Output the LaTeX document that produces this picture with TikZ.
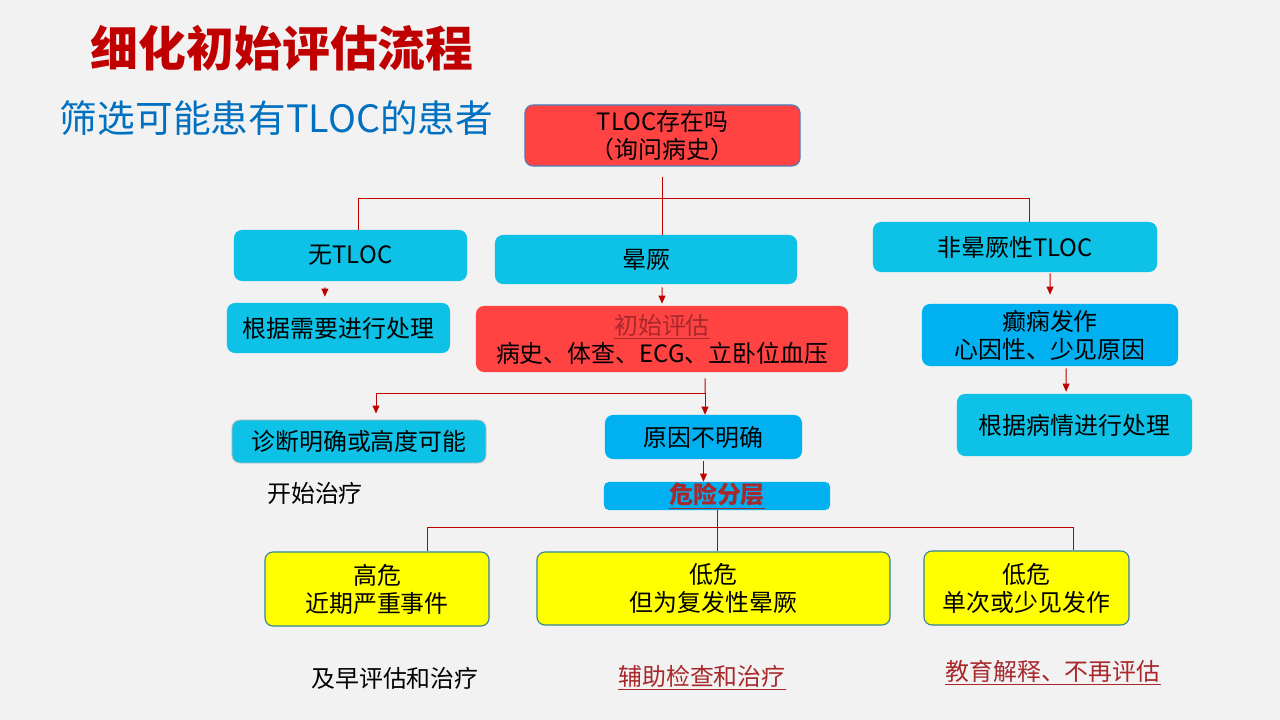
\documentclass[tikz,border=0pt]{standalone}
\usepackage{fontspec}
\setmainfont{Noto Sans CJK SC}
\usetikzlibrary{arrows.meta}

\definecolor{bgray}{HTML}{F2F2F2}
\definecolor{boxred}{HTML}{FF4343}
\definecolor{boxcyan}{HTML}{0DC2E6}
\definecolor{boxblue}{HTML}{00B0F0}
\definecolor{boxyellow}{HTML}{FFFF00}
\definecolor{edgeteal}{HTML}{31859C}
\definecolor{edgeblue}{HTML}{4A7EBB}
\definecolor{linkred}{HTML}{C00000}
\definecolor{txtred}{HTML}{A8282C}
\definecolor{titlered}{HTML}{C00000}
\definecolor{subblue}{HTML}{0070C0}

\tikzset{
  box/.style={rounded corners=2mm, inner sep=0pt, align=center, font=\fontsize{17}{20}\selectfont},
  redbox/.style={box, fill=boxred},
  cyanbox/.style={box, fill=boxcyan},
  bluebox/.style={box, fill=boxblue},
  yelbox/.style={box, fill=boxyellow, draw=edgeteal, line width=0.8pt},
  plain/.style={font=\fontsize{17}{20}\selectfont},
  link/.style={draw=linkred, line width=0.7pt},
  arr/.style={link, -{Triangle[length=2mm, width=1.7mm]}}
}

\begin{document}
\begin{tikzpicture}[x=0.025cm, y=-0.025cm]
  \fill[bgray] (0,0) rectangle (1280,720);
  \useasboundingbox (0,0) rectangle (1280,720);

  \node[anchor=west, text=titlered, font=\fontsize{34}{40}\selectfont\bfseries] (title) at (86,48) {细化初始评估流程};
  \node[anchor=west, text=subblue, font=\fontsize{26.8}{32}\selectfont] (sub) at (55,118) {筛选可能患有TLOC的患者};

  % first level
  \node[redbox, draw=edgeblue, line width=0.8pt, minimum width=68.75mm, minimum height=15.25mm] (q) at (662.5,135.5) {TLOC存在吗\\（询问病史）};
  \node[cyanbox, minimum width=58.25mm, minimum height=12.75mm] (notloc) at (350.5,255.5) {无TLOC};
  \node[cyanbox, minimum width=75.5mm, minimum height=12.25mm] (syncope) at (646,259.5) {晕厥};
  \node[cyanbox, minimum width=71mm, minimum height=12.5mm] (nonsync) at (1015,247) {非晕厥性TLOC};

  \node[cyanbox, minimum width=55.75mm, minimum height=12.5mm] (treatneed) at (338.5,328) {根据需要进行处理};
  \node[redbox, minimum width=93mm, minimum height=16.5mm] (init) at (662,339) {\textcolor{txtred}{\underline{初始评估}}\\病史、体查、ECG、立卧位血压};
  \node[bluebox, minimum width=64mm, minimum height=15.5mm] (epi) at (1050,335) {癫痫发作\\心因性、少见原因};
  \node[cyanbox, minimum width=58.75mm, minimum height=15.5mm] (treatcond) at (1074.5,425) {根据病情进行处理};

  \node[cyanbox, draw=black!25, line width=0.6pt, minimum width=63.5mm, minimum height=10.75mm] (diag) at (359,441.5) {诊断明确或高度可能};
  \node[bluebox, minimum width=49.25mm, minimum height=11mm] (unclear) at (703.5,437) {原因不明确};
  \node[plain] (start) at (315,493) {开始治疗};
  \node[bluebox, rounded corners=1.2mm, minimum width=56.5mm, minimum height=7mm] (strat) at (717,496) {\textcolor{txtred}{\underline{\bfseries 危险分层}}};

  % risk groups
  \node[yelbox, minimum width=56mm, minimum height=18.5mm] (high) at (377,589) {高危\\近期严重事件};
  \node[yelbox, minimum width=88.25mm, minimum height=18.25mm] (lowrec) at (713.5,588.5) {低危\\但为复发性晕厥};
  \node[yelbox, minimum width=51.25mm, minimum height=18.5mm] (lowone) at (1026.5,588) {低危\\单次或少见发作};

  \node[plain] (early) at (395,678) {及早评估和治疗};
  \node[plain, text=txtred] (aux) at (702,678) {\underline{辅助检查和治疗}};
  \node[plain, text=txtred] (edu) at (1053,673) {\underline{教育解释、不再评估}};

  % connectors
  \coordinate (qs) at (662,177);
  \coordinate (jl) at (358,198);
  \coordinate (jr) at (1029,198);
  \draw[link] (qs) -- (syncope.north -| qs);
  \draw[link] (jl) -- (jr);
  \draw[link] (jl) -- (notloc.north -| jl);
  \draw[link] (jr) -- (nonsync.north -| jr);

  \draw[arr] ([xshift=-6.4mm, yshift=-1.5mm]notloc.south) -- ([xshift=-3.4mm, yshift=1.5mm]treatneed.north);
  \draw[arr] ([xshift=4mm, yshift=-0.75mm]syncope.south) -- ([yshift=0.5mm]init.north);
  \draw[arr] ([xshift=8.75mm, yshift=-0.25mm]nonsync.south) -- ([yshift=2.25mm]epi.north);
  \draw[arr] ([xshift=4mm, yshift=-0.5mm]epi.south) -- ([xshift=-2.1mm, yshift=0.5mm]treatcond.north);

  \coordinate (jb) at (705,393);
  \draw[link] ([xshift=10.75mm, yshift=-1.5mm]init.south) -- (jb);
  \draw[arr] (jb) -- (unclear.north -| jb);
  \draw[arr] (jb) -| ([xshift=4.25mm, yshift=1.5mm]diag.north);
  \draw[arr] ([yshift=-0.5mm]unclear.south) -- (strat.north -| unclear.south);

  \coordinate (jl2) at (427,527);
  \coordinate (jr2) at (1073,527);
  \draw[link] (strat.south) -- (lowrec.north -| strat.south);
  \draw[link] (jl2) -- (jr2);
  \draw[link] (jl2) -- (high.north -| jl2);
  \draw[link] (jr2) -- (lowone.north -| jr2);
\end{tikzpicture}
\end{document}
